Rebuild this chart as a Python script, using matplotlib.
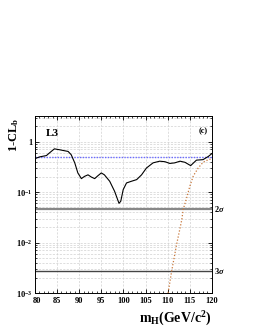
import matplotlib
matplotlib.use("Agg")
import matplotlib.pyplot as plt
import matplotlib.transforms as mtransforms
import numpy as np
from matplotlib.ticker import FixedLocator, NullFormatter

plt.rcParams['font.family'] = ['Liberation Serif', 'DejaVu Serif']
plt.rcParams['font.weight'] = 'bold'
plt.rcParams['mathtext.fontset'] = 'custom'
plt.rcParams['mathtext.rm'] = 'Liberation Serif:bold'
plt.rcParams['mathtext.it'] = 'Liberation Serif:italic:bold'
plt.rcParams['mathtext.bf'] = 'Liberation Serif:bold'

# observed 1-CL_b
obs_m = [80, 81.1, 82.6, 83.3, 84.4, 85.6, 86.7, 87.5, 88.2, 89.0, 89.7, 90.5,
         91.2, 92.0, 92.7, 93.5, 94.2, 95.0, 95.7, 96.9, 98.0, 99.0, 99.4,
         99.95, 100.7, 101.8, 103.0, 104.1, 105.2, 106.7, 108.2, 109.4, 110.5,
         111.6, 112.8, 113.9, 115.2, 116.5, 118.0, 119.2, 120.0]
obs_v = [0.46, 0.50, 0.53, 0.60, 0.72, 0.69, 0.66, 0.64, 0.55, 0.38, 0.24, 0.185,
         0.205, 0.22, 0.20, 0.185, 0.21, 0.24, 0.22, 0.164, 0.104, 0.060, 0.066,
         0.112, 0.152, 0.164, 0.177, 0.22, 0.30, 0.38, 0.41, 0.40, 0.37,
         0.38, 0.41, 0.39, 0.335, 0.43, 0.44, 0.51, 0.58]

# expected for signal + background
sig_m = [110.1, 110.9, 112.0, 113.2, 113.5, 114.3, 115.0, 115.8, 116.9, 118.0, 119.2, 120.0]
sig_v = [0.001, 0.0027, 0.009, 0.0285, 0.045, 0.077, 0.13, 0.21, 0.30, 0.39, 0.44, 0.46]

median_bkg = 0.5
sigma_levels = [0.0455, 0.0027]
sigma_labels = ['2$\\sigma$', '3$\\sigma$']

xticks = [80, 85, 90, 95, 100, 105, 110, 115, 120]
yticks = [1, 0.1, 0.01, 0.001]
ytick_labels = ['1', '10$^{-1}$', '10$^{-2}$', '10$^{-3}$']

fig = plt.figure(figsize=(2.55, 3.3), dpi=100)
ax = fig.add_axes([0.137, 0.112, 0.694, 0.536])
ax.set_yscale('log')
ax.set_xlim(80, 120)
ax.set_ylim(0.001, 3.2)

# grid
minors = [m * 10.0**e for e in range(-3, 1) for m in range(2, 10)]
for yv in minors + [0.1, 0.01, 1]:
    ax.axhline(yv, color='#d0d0d0', lw=0.5, ls=(0, (3, 2)), zorder=0)
for xv in xticks[1:-1]:
    ax.axvline(xv, color='#d0d0d0', lw=0.5, ls=(0, (3, 2)), zorder=0)

ax.axhline(median_bkg, color='#6a6aff', lw=1.0, ls=(0, (1, 1)), zorder=2)
ax.axhline(sigma_levels[0], color='#888888', lw=1.6, zorder=2)
ax.axhline(sigma_levels[1], color='#444444', lw=1.0, zorder=2)
for lv, lab in zip(sigma_levels, sigma_labels):
    ax.text(1.01, lv, lab, transform=ax.get_yaxis_transform(), fontsize=6,
            va='center', ha='left')

ax.plot(obs_m, obs_v, color='black', lw=0.8, zorder=3)
ax.plot(sig_m, sig_v, color='#c8783c', lw=0.9, ls=(0, (1, 1.5)), zorder=3)

ax.xaxis.set_major_locator(FixedLocator(xticks))
ax.set_xticklabels([str(x) for x in xticks])
ax.xaxis.set_minor_locator(FixedLocator(np.arange(80, 121, 1)))
ax.yaxis.set_major_locator(FixedLocator(yticks))
ax.set_yticklabels(ytick_labels)
ax.yaxis.set_minor_locator(FixedLocator(minors))
ax.yaxis.set_minor_formatter(NullFormatter())
ax.tick_params(which='both', direction='in', top=True, right=True, labelsize=6)
ax.tick_params(axis='x', pad=2.5)
ax.tick_params(axis='y', pad=2.0)
ax.tick_params(which='major', length=3, width=0.6)
ax.tick_params(which='minor', length=1.5, width=0.5)
for s in ax.spines.values():
    s.set_linewidth(0.7)

# nudge the first x label slightly right so it clears the 10^-3 label
first = ax.get_xticklabels()[0]
first.set_transform(first.get_transform() + mtransforms.ScaledTranslation(2.5/100, 0, fig.dpi_scale_trans))

ax.text(0.06, 0.93, 'L3', transform=ax.transAxes, fontsize=8, fontweight='bold', va='top')
ax.text(0.975, 0.94, '(c)', transform=ax.transAxes, fontsize=6, fontweight='bold', va='top', ha='right')

fig.text(0.055, 0.59, '1-CL$_{\\rm b}$', rotation=90, fontsize=9, fontweight='bold', ha='center', va='center')
fig.text(0.831, 0.035, 'm$_{\\rm H}$(GeV/c$^{2}$)', fontsize=10, fontweight='bold', ha='right', va='center')

fig.savefig('out.png', dpi=100)
